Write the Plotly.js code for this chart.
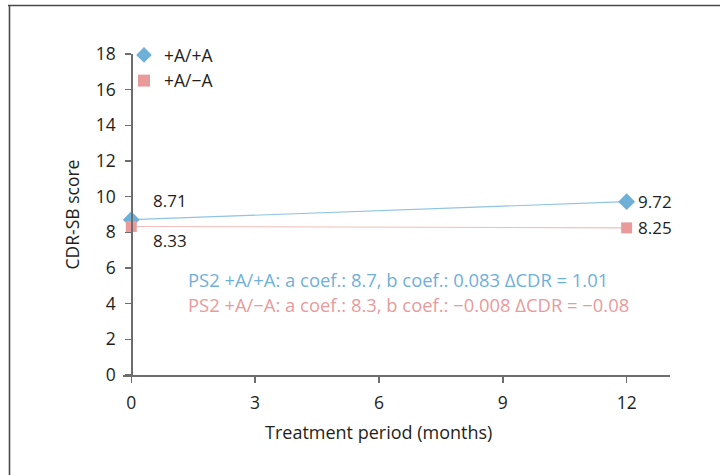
<!DOCTYPE html>
<html><head><meta charset="utf-8">
<script src="https://cdn.plot.ly/plotly-3.0.1.min.js"></script>
<style>html,body{margin:0;padding:0;background:#fff}#chart{width:720px;height:475px}</style>
</head><body><div id="chart"></div>
<script>
var months = [0, 12];
var seriesNames = ['+A/+A', '+A/\u2212A'];
var scoresPP = [8.71, 9.72];
var scoresPM = [8.33, 8.25];
var labelsPP = ['8.71', '9.72'];
var labelsPM = ['8.33', '8.25'];
var xTicks = [0, 3, 6, 9, 12];
var yTicks = [0, 2, 4, 6, 8, 10, 12, 14, 16, 18];
var coefNotes = [
  'PS2 +A/+A: a coef.: 8.7, b coef.: 0.083 \u0394CDR = 1.01',
  'PS2 +A/\u2212A: a coef.: 8.3, b coef.: \u22120.008 \u0394CDR = \u22120.08'
];

var blue = '#6fb0d9', blueLine = '#8ec3e3';
var pink = '#e99a9b', pinkLine = '#f2bcbc';
var FONT = 'Open Sans, sans-serif';
var dark = '#231f20';
var FS = 17.5;

var L = 123, R = 50, T = 54, B = 100, W = 720, H = 475;
var pw = W - L - R, ph = H - T - B;
function px2x(p){ return (p - L) / pw; }
function py2y(p){ return (H - B - p) / ph; }
var xr = [-0.2, 13.05];

var traces = [
  {x: months, y: scoresPP, mode: 'lines', line: {color: blueLine, width: 1.1}, showlegend: false, hoverinfo: 'skip'},
  {x: months, y: scoresPM, mode: 'lines', line: {color: pinkLine, width: 1.1}, showlegend: false, hoverinfo: 'skip'},
  {x: months, y: scoresPP, name: seriesNames[0], mode: 'markers', marker: {symbol: 'diamond', size: 13, color: blue}, cliponaxis: false},
  {x: months, y: scoresPM, name: seriesNames[1], mode: 'markers', marker: {symbol: 'square', size: 11, color: pink}, cliponaxis: false}
];

var ann = [];
var offPP = [[20, -19], [9, 0]];
var offPM = [[20, 14], [9, 0]];
for (var i = 0; i < months.length; i++) {
  ann.push({x: months[i], y: scoresPP[i], text: labelsPP[i], showarrow: false, xanchor: 'left', yanchor: 'middle',
    xshift: offPP[i][0], yshift: -offPP[i][1], font: {family: FONT, size: 17, color: dark}});
  ann.push({x: months[i], y: scoresPM[i], text: labelsPM[i], showarrow: false, xanchor: 'left', yanchor: 'middle',
    xshift: offPM[i][0], yshift: -offPM[i][1], font: {family: FONT, size: 17, color: dark}});
}
ann.push({x: 1.33, y: 5.33, text: coefNotes[0], showarrow: false, xanchor: 'left', yanchor: 'middle', font: {family: FONT, size: 18.4, color: blue}});
ann.push({x: 1.33, y: 3.93, text: coefNotes[1], showarrow: false, xanchor: 'left', yanchor: 'middle', font: {family: FONT, size: 18.4, color: pink}});
ann.push({x: 6, xref: 'x', y: py2y(432), yref: 'paper', text: 'Treatment period (months)', showarrow: false, xanchor: 'center', yanchor: 'middle', font: {family: FONT, size: 18, color: dark}});

var shapes = [
  {type: 'line', xref: 'paper', yref: 'paper', x0: px2x(8), x1: px2x(721), y0: py2y(5.5), y1: py2y(5.5), line: {color: '#4a4a4a', width: 1.6}},
  {type: 'line', xref: 'paper', yref: 'paper', x0: px2x(9.5), x1: px2x(9.5), y0: py2y(5), y1: py2y(476), line: {color: '#4a4a4a', width: 1.6}}
];

var layout = {
  width: W, height: H,
  margin: {l: L, r: R, t: T, b: B},
  paper_bgcolor: '#fff', plot_bgcolor: '#fff',
  font: {family: FONT, size: FS, color: dark},
  showlegend: true,
  legend: {x: px2x(124), xanchor: 'left', y: py2y(37), yanchor: 'top', bgcolor: 'rgba(0,0,0,0)', font: {family: FONT, size: 17.5, color: dark}, tracegroupgap: 0, itemsizing: 'constant', itemwidth: 30},
  xaxis: {range: xr, tickvals: xTicks, ticktext: xTicks.map(String), showgrid: false, zeroline: false,
    showline: true, linecolor: '#6d6d6d', linewidth: 1.5, ticks: 'outside', ticklen: 6, tickcolor: '#6d6d6d', tickwidth: 1.5,
    ticklabelstandoff: 5, tickfont: {family: FONT, size: FS, color: dark}, fixedrange: true},
  yaxis: {range: [0, 18], tickvals: yTicks, ticktext: yTicks.map(String), showgrid: false, zeroline: false,
    anchor: 'free', position: (0 - xr[0]) / (xr[1] - xr[0]),
    showline: true, linecolor: '#6d6d6d', linewidth: 1.5, ticks: 'outside', ticklen: 6, tickcolor: '#6d6d6d', tickwidth: 1.5,
    ticklabelstandoff: 6, tickfont: {family: FONT, size: FS, color: dark},
    title: {text: 'CDR-SB score', font: {family: FONT, size: FS, color: dark}, standoff: 10}, fixedrange: true},
  annotations: ann,
  shapes: shapes
};
Plotly.newPlot('chart', traces, layout, {displayModeBar: false, staticPlot: true});
</script></body></html>
